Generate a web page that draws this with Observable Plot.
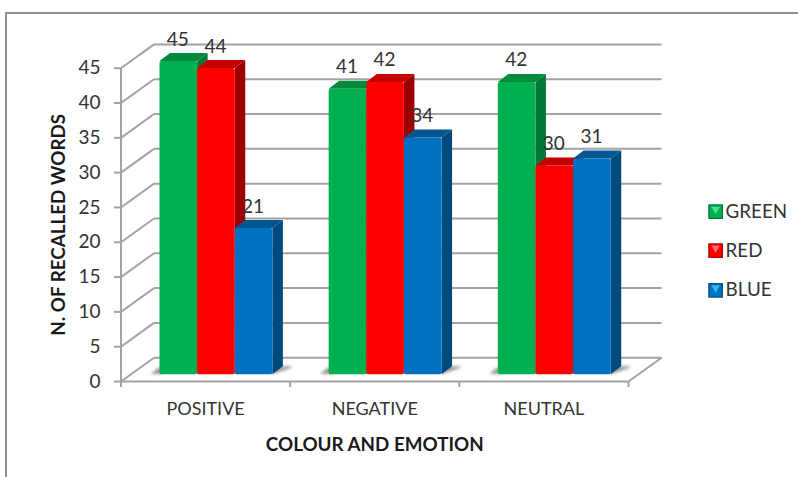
<!DOCTYPE html>
<html>
<head>
<meta charset="utf-8">
<script src="https://cdn.jsdelivr.net/npm/d3@7"></script>
<script src="https://cdn.jsdelivr.net/npm/@observablehq/plot@0.6"></script>
<style>
  html, body { margin: 0; padding: 0; background: #fff; }
  #chart { position: relative; width: 798px; height: 477px; overflow: hidden; }
  #chart svg { position: absolute; left: 0; top: 0; }
  #outline { position: absolute; left: 5px; top: 12px; width: 900px; height: 600px; border: 2px solid #8f8f8f; }
</style>
</head>
<body>
<div id="chart"><div id="outline"></div></div>
<script>
// Recalled words by emotion category and word colour.
const categories = ["POSITIVE", "NEGATIVE", "NEUTRAL"];
const seriesNames = ["GREEN", "RED", "BLUE"];
const green = [45, 41, 42];
const red = [44, 42, 30];
const blue = [21, 34, 31];
const yTicks = [0, 5, 10, 15, 20, 25, 30, 35, 40, 45];

const frontFill = ["#00b050", "#ff0000", "#0070c0"];
const topFill = ["#008a3e", "#c40000", "#00568f"];
const sideFill = ["#007a37", "#9c0000", "#004a7d"];
const legendLight = ["#4fe08e", "#ff6a6a", "#35b4f0"];
const swatchStroke = ["#00843c", "#c00000", "#00558f"];
const values = [green, red, blue];

const font = "Lato, 'Noto Sans', sans-serif";
const textColor = "#333333";
const gridColor = "#a3a3a3";

// Oblique projection, all in data units: one x unit is one category.
const wallDX = 0.195, wallDY = 3.42;   // depth of the chart box
const barDX = 0.062, barDY = 1.15;     // depth of a bar
const barBase = 0.96;                  // bars stand in from the front of the floor
const groupPad = 0.2305, barWidth = 0.2225;

const bars = values.flatMap((vals, s) => vals.map((v, c) => {
  const x1 = c + groupPad + s * barWidth;
  return {series: s, category: c, value: v, x1, x2: x1 + barWidth, lo: barBase, hi: barBase + v};
}));

function sideFace(b) {
  return [
    {bar: `${b.category}`, x: b.x2, y1: b.lo, y2: b.hi},
    {bar: `${b.category}`, x: b.x2 + barDX, y1: b.lo + barDY, y2: b.hi + barDY}
  ];
}
function topFace(b) {
  const t = b.hi, u = b.hi + barDY;
  return [
    {bar: `${b.category}`, x: b.x1, y1: t, y2: t},
    {bar: `${b.category}`, x: b.x1 + barDX, y1: t, y2: u},
    {bar: `${b.category}`, x: b.x2, y1: t, y2: u},
    {bar: `${b.category}`, x: b.x2 + barDX, y1: u, y2: u}
  ];
}
// Soft shadow on the floor at both ends of each group.
const shadowRows = categories.flatMap((_, c) => {
  const l = c + groupPad, r = l + 3 * barWidth;
  return [
    {bar: `l${c}`, x: l - 0.05, y1: barBase + 0.05, y2: barBase + 0.05},
    {bar: `l${c}`, x: l - 0.01, y1: barBase + 0.05, y2: barBase + 0.9},
    {bar: `l${c}`, x: l + 0.02, y1: barBase + 0.05, y2: barBase + 0.9},
    {bar: `r${c}`, x: r, y1: barBase + 0.02, y2: barBase + 1},
    {bar: `r${c}`, x: r + barDX, y1: barBase + 0.5, y2: barBase + 1.15},
    {bar: `r${c}`, x: r + barDX + 0.05, y1: barBase + 0.95, y2: barBase + 1.15}
  ];
});

const legendX = 3.515, legendTextX = 3.574;
const legendY = [24.4, 18.8, 13.1];
const legendRows = seriesNames.map((name, i) => ({name, i, y: legendY[i]}));

const gridStyle = {stroke: gridColor, strokeWidth: 2};

const marks = [
  // back wall, left wall and floor
  Plot.link(yTicks, {x1: wallDX, x2: 3 + wallDX, y1: d => d + wallDY, y2: d => d + wallDY, ...gridStyle}),
  Plot.link(yTicks, {x1: 0, x2: wallDX, y1: d => d, y2: d => d + wallDY, ...gridStyle}),
  Plot.link([0], {x1: 3, x2: 3 + wallDX, y1: 0, y2: wallDY, ...gridStyle}),
  Plot.ruleX([0], {y1: 0, y2: 45, ...gridStyle}),
  Plot.ruleY([0], {x1: 0, x2: 3, ...gridStyle}),
  Plot.area(shadowRows, {x1: "x", y1: "y1", y2: "y2", z: "bar", fill: "#9a9a9a", imageFilter: "blur(1.5px)"}),

  // bars, series by series so each front overlaps the side of its neighbour
  ...values.flatMap((_, s) => {
    const rows = bars.filter(b => b.series === s);
    return [
      Plot.area(rows.flatMap(sideFace), {x1: "x", y1: "y1", y2: "y2", z: "bar", fill: sideFill[s]}),
      Plot.area(rows.flatMap(topFace), {x1: "x", y1: "y1", y2: "y2", z: "bar", fill: topFill[s]}),
      Plot.rect(rows, {x1: "x1", x2: "x2", y1: "lo", y2: "hi", fill: frontFill[s], rx: 2})
    ];
  }),

  // value labels above each bar
  Plot.text(bars, {
    x: b => (b.x1 + b.x2) / 2, y: b => b.hi + barDY, text: b => String(b.value),
    dy: -14, dx: -1, fontSize: 19, fontFamily: font, fill: textColor
  }),

  // axes
  Plot.axisY({
    ticks: yTicks, tickSize: 6.5, tickPadding: 14, fontSize: 19, fontFamily: font,
    fill: textColor, stroke: gridColor, strokeWidth: 2, label: null
  }),
  Plot.axisX({
    ticks: [0, 1, 2, 3], tickSize: 6, tickFormat: () => "", stroke: gridColor, strokeWidth: 2, label: null
  }),
  Plot.axisX({
    ticks: [0.5, 1.5, 2.5], tickSize: 0, tickPadding: 21,
    tickFormat: d => categories[Math.floor(d)], fontSize: 18, fontFamily: font, fill: textColor, label: null
  }),

  // axis titles
  Plot.text(["COLOUR AND EMOTION"], {
    x: 1.5, y: -9.05, text: d => d, fontSize: 18.8, fontWeight: 700, fontFamily: font, fill: "#1a1a1a"
  }),
  Plot.text(["N. OF RECALLED WORDS"], {
    x: -0.369, y: 22.5, text: d => d, rotate: -90, fontSize: 18.8, fontWeight: 700, fontFamily: font, fill: "#1a1a1a"
  }),

  // legend
  Plot.dot(legendRows, {
    x: () => legendX, y: "y", symbol: "square", r: 7.5,
    fill: d => frontFill[d.i], stroke: d => swatchStroke[d.i], strokeWidth: 1.5
  }),
  Plot.dot(legendRows, {
    x: () => legendX, y: "y", symbol: "triangle", r: 3.2, rotate: 180, dy: -2.5,
    fill: d => legendLight[d.i]
  }),
  Plot.text(legendRows, {
    x: () => legendTextX, y: "y", text: "name", textAnchor: "start",
    fontSize: 18.8, fontFamily: font, fill: textColor
  })
];

const plot = Plot.plot({
  width: 798,
  height: 477,
  marginLeft: 120.5,
  marginRight: 170,
  marginTop: 67.7,
  marginBottom: 96,
  style: {background: "transparent", overflow: "visible"},
  x: {domain: [0, 3]},
  y: {domain: [0, 45]},
  marks
});
document.getElementById("chart").appendChild(plot);
</script>
</body>
</html>
